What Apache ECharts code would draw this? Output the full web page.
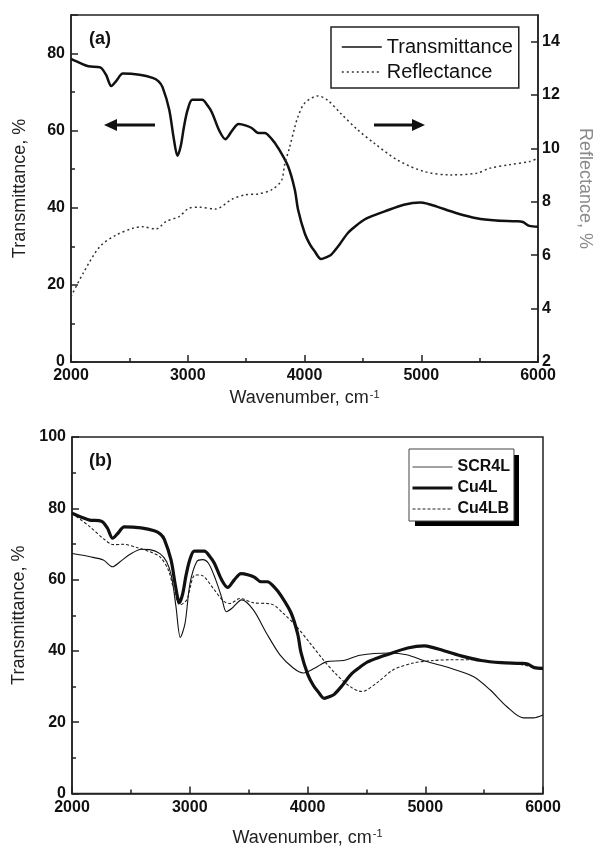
<!DOCTYPE html>
<html>
<head>
<meta charset="utf-8">
<script src="https://cdn.jsdelivr.net/npm/echarts@6/dist/echarts.min.js"></script>
<style>html,body{margin:0;padding:0;background:#fff;}#c{width:602px;height:848px;}</style>
</head>
<body>
<div id="c"></div>
<script>
// ---- Data ----
// Transmittance (panel a) == Cu4L (panel b)
const transWn = [2000,2080,2150,2250,2300,2345,2390,2444,2586,2699,2750,2784,2841,2880,2912,2940,2968,3000,3039,3124,3170,3209,3270,3322,3380,3435,3500,3548,3605,3659,3720,3775,3860,3917,3945,4002,4050,4087,4142,4190,4227,4300,4370,4440,4511,4600,4681,4851,4992,5060,5134,5304,5474,5643,5813,5870,5926,6000];
const transT  = [78.6,77.5,76.7,76.4,74.5,71.6,73.0,74.8,74.5,73.7,72.8,71.3,65.5,58.0,53.5,56.0,61.1,65.5,68.0,68.0,66.5,64.6,60.0,57.8,60.0,61.7,61.3,60.7,59.4,59.4,57.8,55.5,50.7,44.7,39.5,33.4,30.3,28.7,26.7,27.2,27.8,30.5,33.4,35.3,36.9,38.1,39.0,40.8,41.4,41.0,40.3,38.6,37.3,36.7,36.5,36.3,35.3,35.1];
// Reflectance (panel a, right axis)
const reflWn = [2000,2105,2246,2388,2529,2614,2728,2813,2926,3010,3096,3237,3379,3492,3605,3718,3803,3830,3870,3917,3945,4002,4115,4200,4313,4455,4596,4795,5021,5248,5474,5587,5757,5926,6000];
const reflR  = [4.45,5.33,6.32,6.76,7.01,7.07,6.98,7.26,7.45,7.76,7.80,7.73,8.10,8.26,8.30,8.45,8.80,9.40,10.0,10.8,11.2,11.7,11.97,11.8,11.3,10.7,10.2,9.57,9.14,9.01,9.07,9.26,9.39,9.51,9.64];
// SCR4L (panel b)
const scrWn = [2000,2153,2266,2345,2408,2493,2592,2662,2747,2804,2846,2883,2920,2960,3002,3059,3110,3160,3220,3271,3310,3356,3441,3540,3653,3766,3879,3964,4064,4163,4304,4446,4701,4842,5012,5210,5408,5550,5692,5833,5918,6000];
const scrT  = [67.3,66.4,65.5,63.6,65.0,67.1,68.5,68.4,67.3,65.0,60.8,52.4,43.8,47.7,58.9,65.0,65.6,64.5,60.0,55.0,51.0,51.9,54.3,51.5,44.9,38.9,35.2,33.8,35.2,37.0,37.3,38.8,39.4,38.9,37.0,35.2,32.8,29.1,24.4,21.2,21.2,22.0];
// Cu4L (panel b) uses the same spectrum as Transmittance
const cu4lWn = transWn;
const cu4lT  = transT;
// Cu4LB (panel b)
const cu4lbWn = [2000,2153,2266,2351,2436,2549,2662,2747,2818,2866,2917,2974,3045,3100,3200,3285,3342,3427,3540,3696,3795,3908,4021,4134,4248,4361,4460,4588,4729,4899,5069,5210,5408,5600,5800,6000];
const cu4lbT  = [78.6,74.8,71.5,69.8,69.9,69.0,67.8,66.4,62.7,57.1,52.9,54.3,61.3,61.2,57.5,54.0,53.3,54.7,53.5,53.1,50.5,46.8,42.2,37.5,33.3,30.0,28.6,31.0,34.7,36.6,37.3,37.5,37.5,36.8,36.2,35.0];

const pair = (xs, ys) => xs.map((x, i) => [x, ys[i]]);

const FONT = 'Liberation Sans, Arial, sans-serif';
const INK = '#111';
const AX = '#222';

function xAxisCfg(gi, gap) {
  return {
    type: 'value', gridIndex: gi, min: 2000, max: 6000, interval: 1000,
    axisLine: {onZero: false, lineStyle: {color: AX, width: 1.5}},
    axisTick: {inside: true, length: 7, lineStyle: {color: AX, width: 1.5}},
    minorTick: {show: true, splitNumber: 2, length: 4, lineStyle: {color: AX, width: 1.5}},
    splitLine: {show: false},
    axisLabel: {color: INK, fontSize: 16, fontWeight: 'bold', fontFamily: FONT, margin: 6, formatter: v => String(v)},
    name: 'Wavenumber, cm{sup|-1}', nameLocation: 'middle', nameGap: gap,
    nameTextStyle: {color: AX, fontSize: 18, fontFamily: FONT,
      rich: {sup: {fontSize: 11, fontFamily: FONT, color: AX, verticalAlign: 'top', padding: [0, 0, 8, 1]}}}
  };
}
function yAxisCfg(gi, min, max, opts) {
  return Object.assign({
    type: 'value', gridIndex: gi, min: min, max: max, interval: 20,
    axisLine: {onZero: false, lineStyle: {color: AX, width: 1.5}},
    axisTick: {inside: true, length: 7, lineStyle: {color: AX, width: 1.5}},
    minorTick: {show: true, splitNumber: 2, length: 4, lineStyle: {color: AX, width: 1.5}},
    splitLine: {show: false},
    axisLabel: {color: INK, fontSize: 16, fontWeight: 'bold', fontFamily: FONT, margin: 6, showMaxLabel: max % 20 === 0},
    name: 'Transmittance, %', nameLocation: 'middle', nameGap: 42,
    nameTextStyle: {color: AX, fontSize: 18, fontFamily: FONT}
  }, opts || {});
}

function arrow(x1, x2, y) {
  // x1 = tail, x2 = head
  const dir = x2 > x1 ? 1 : -1;
  const hl = 13, hw = 6;
  return {
    type: 'group', silent: true,
    children: [
      {type: 'line', shape: {x1: x1, y1: y, x2: x2 - dir * hl, y2: y}, style: {stroke: INK, lineWidth: 3}},
      {type: 'polygon', shape: {points: [[x2, y], [x2 - dir * hl, y - hw], [x2 - dir * hl, y + hw]]}, style: {fill: INK}}
    ]
  };
}

const chart = echarts.init(document.getElementById('c'), null, {renderer: 'canvas'});
chart.setOption({
  animation: false,
  backgroundColor: '#fff',
  grid: [
    {left: 71, top: 15, width: 471, height: 347, show: true, borderColor: AX, borderWidth: 1.5, backgroundColor: 'transparent'},
    {left: 72, top: 437, width: 471, height: 357, show: true, borderColor: AX, borderWidth: 1.5, backgroundColor: 'transparent'}
  ],
  xAxis: [xAxisCfg(0, 27), xAxisCfg(1, 35)],
  yAxis: [
    yAxisCfg(0, 0, 90),
    {
      type: 'value', gridIndex: 0, position: 'right', min: 2, max: 15, interval: 2,
      axisLine: {onZero: false, lineStyle: {color: AX, width: 1.5}},
      axisTick: {inside: true, length: 7, lineStyle: {color: AX, width: 1.5}},
      splitLine: {show: false},
      axisLabel: {color: INK, fontSize: 16, fontWeight: 'bold', fontFamily: FONT, margin: 4, showMaxLabel: false},
      name: 'Reflectance, %', nameLocation: 'middle', nameGap: 38, nameRotate: -90,
      nameTextStyle: {color: '#8a8a8a', fontSize: 18, fontFamily: FONT}
    },
    yAxisCfg(1, 0, 100)
  ],
  legend: [
    {
      data: [
        {name: 'Transmittance', lineStyle: {width: 1.6}},
        {name: 'Reflectance', lineStyle: {width: 1.3}}
      ],
      orient: 'vertical', left: 331, top: 27,
      padding: [10, 6, 6, 10], itemGap: 5, itemWidth: 40, itemHeight: 16,
      borderColor: AX, borderWidth: 1.5, backgroundColor: '#fff',
      itemStyle: {opacity: 0, borderWidth: 0},
      textStyle: {color: INK, fontSize: 20, fontFamily: FONT}
    },
    {
      data: [
        {name: 'SCR4L', lineStyle: {width: 0.8}},
        {name: 'Cu4L', lineStyle: {width: 3}},
        {name: 'Cu4LB', lineStyle: {width: 1}}
      ],
      orient: 'vertical', left: 409, top: 449,
      padding: [10, 4, 4, 2], itemGap: 5, itemWidth: 40, itemHeight: 16,
      borderColor: '#444', borderWidth: 1, backgroundColor: '#fff',
      itemStyle: {opacity: 0, borderWidth: 0},
      textStyle: {color: INK, fontSize: 16, fontWeight: 'bold', fontFamily: FONT}
    }
  ],
  series: [
    {name: 'Transmittance', type: 'line', xAxisIndex: 0, yAxisIndex: 0, data: pair(transWn, transT),
      smooth: 0.3, showSymbol: false, symbol: 'none', lineStyle: {color: INK, width: 2.5}, itemStyle: {color: INK}},
    {name: 'Reflectance', type: 'line', xAxisIndex: 0, yAxisIndex: 1, data: pair(reflWn, reflR),
      smooth: 0.3, showSymbol: false, symbol: 'none', lineStyle: {color: '#333', width: 1.5, type: [2, 3]}, itemStyle: {color: '#333'}},
    {name: 'SCR4L', type: 'line', xAxisIndex: 1, yAxisIndex: 2, data: pair(scrWn, scrT),
      smooth: 0.3, showSymbol: false, symbol: 'none', lineStyle: {color: INK, width: 1.1}, itemStyle: {color: INK}},
    {name: 'Cu4LB', type: 'line', xAxisIndex: 1, yAxisIndex: 2, data: pair(cu4lbWn, cu4lbT),
      smooth: 0.3, showSymbol: false, symbol: 'none', lineStyle: {color: '#222', width: 1.1, type: [3, 2]}, itemStyle: {color: '#222'}},
    {name: 'Cu4L', type: 'line', xAxisIndex: 1, yAxisIndex: 2, data: pair(cu4lWn, cu4lT),
      smooth: 0.3, showSymbol: false, symbol: 'none', lineStyle: {color: INK, width: 3.2}, itemStyle: {color: INK}}
  ],
  graphic: [
    {type: 'text', left: 89, top: 30, style: {text: '(a)', fill: INK, font: 'bold 18px ' + FONT}},
    {type: 'text', left: 89, top: 452, style: {text: '(b)', fill: INK, font: 'bold 18px ' + FONT}},
    {type: 'rect', z: 3, silent: true, shape: {x: 415, y: 455, width: 104, height: 71}, style: {fill: '#000'}},
    arrow(155, 104, 125),
    arrow(374, 425, 125)
  ]
});
</script>
</body>
</html>
